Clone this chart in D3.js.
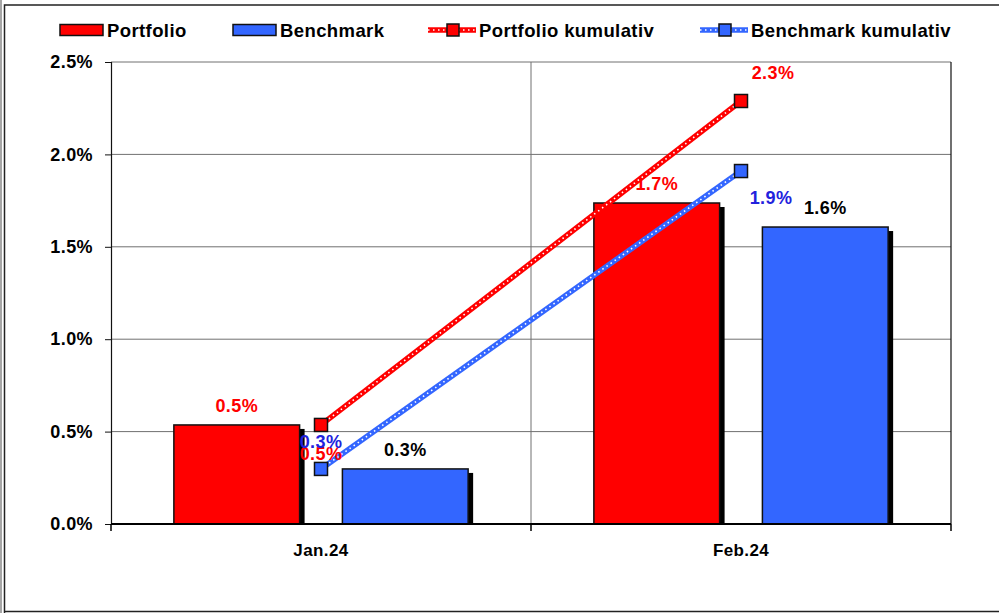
<!DOCTYPE html>
<html lang="en">

<head>
    <meta charset="UTF-8">
    <script src="https://d3js.org/d3.v7.min.js"></script>
    <title>Portfolio vs Benchmark</title>
    <style>
        body { margin: 0; background: #fff; }
        svg text { font-family: "Liberation Sans", Arial, sans-serif; font-weight: bold; letter-spacing: 0.4px; }
    </style>
</head>

<body>
    <div id="chart"></div>
    <script>
        // Data
        const months = ["Jan.24", "Feb.24"];
        const portfolio = [0.536, 1.737];
        const benchmark = [0.298, 1.607];
        const portfolioCum = [0.536, 2.289];
        const benchmarkCum = [0.298, 1.910];
        const yTicks = [0, 0.5, 1.0, 1.5, 2.0, 2.5];

        // Dimensions
        const width = 999;
        const height = 613;
        const margin = { top: 62, right: 48, bottom: 89, left: 111 };
        const innerWidth = width - margin.left - margin.right;
        const innerHeight = height - margin.top - margin.bottom;

        const svg = d3.select("#chart")
            .append("svg")
            .attr("width", width)
            .attr("height", height);

        // Outer frame
        svg.append("rect").attr("x", 0).attr("y", 0).attr("width", width).attr("height", height).attr("fill", "#fff");
        svg.append("line").attr("x1", 1).attr("x2", 1).attr("y1", 0).attr("y2", 613).attr("stroke", "#888").attr("stroke-width", 1.5);
        svg.append("path")
            .attr("d", "M4.5,613 V5 H999 M4.5,611.5 H999")
            .attr("fill", "none").attr("stroke", "#222").attr("stroke-width", 1.5);

        const g = svg.append("g")
            .attr("transform", `translate(${margin.left},${margin.top})`);

        // Scales
        const x = d3.scaleBand().domain(months).range([0, innerWidth]);
        const sub = d3.scaleBand().domain(["portfolio", "benchmark"])
            .range([0, x.bandwidth()]).paddingInner(0.254).paddingOuter(0.373);
        const y = d3.scaleLinear().domain([0, 2.5]).range([innerHeight, 0]);

        // Gridlines
        g.append("g")
            .selectAll("line")
            .data(yTicks.slice(1))
            .join("line")
            .attr("x1", 0).attr("x2", innerWidth)
            .attr("y1", d => y(d)).attr("y2", d => y(d))
            .attr("stroke", "#707070").attr("stroke-width", 1);

        // vertical category separator + right border
        g.append("line")
            .attr("x1", x(months[1])).attr("x2", x(months[1]))
            .attr("y1", 0).attr("y2", innerHeight)
            .attr("stroke", "#707070");
        g.append("line")
            .attr("x1", innerWidth).attr("x2", innerWidth)
            .attr("y1", 0).attr("y2", innerHeight)
            .attr("stroke", "#111").attr("stroke-width", 1.2);

        // Bars
        const barSeries = [
            { key: "portfolio", values: portfolio, color: "#ff0000", labelColor: "#ff0000" },
            { key: "benchmark", values: benchmark, color: "#3366ff", labelColor: "#000" }
        ];

        barSeries.forEach(s => {
            const bg = g.append("g");
            // shadow
            bg.selectAll(".shadow")
                .data(s.values)
                .join("rect")
                .attr("class", "shadow")
                .attr("x", (d, i) => x(months[i]) + sub(s.key) + 5)
                .attr("y", d => y(d) + 4)
                .attr("width", sub.bandwidth())
                .attr("height", d => innerHeight - y(d) - 3)
                .attr("fill", "#000");
            bg.selectAll(".bar")
                .data(s.values)
                .join("rect")
                .attr("class", "bar")
                .attr("x", (d, i) => x(months[i]) + sub(s.key))
                .attr("y", d => y(d))
                .attr("width", sub.bandwidth())
                .attr("height", d => innerHeight - y(d))
                .attr("fill", s.color)
                .attr("stroke", "#111")
                .attr("stroke-width", 1.5);
            bg.selectAll(".lbl")
                .data(s.values)
                .join("text")
                .attr("class", "lbl")
                .attr("x", (d, i) => x(months[i]) + sub(s.key) + sub.bandwidth() / 2)
                .attr("y", d => y(d) - 13)
                .attr("text-anchor", "middle")
                .attr("fill", s.labelColor)
                .style("font-size", "18px")
                .text(d => d3.format(".1f")(d) + "%");
        });

        // Axes
        g.append("g")
            .call(d3.axisLeft(y).tickValues(yTicks).tickSize(6).tickPadding(12)
                .tickFormat(d => d3.format(".1f")(d) + "%"))
            .call(a => a.select(".domain").attr("stroke", "#111").attr("stroke-width", 1.2))
            .call(a => a.selectAll(".tick line").attr("stroke", "#111"))
            .selectAll("text")
            .attr("fill", "#000")
            .style("font-size", "18px");

        g.append("g")
            .attr("transform", `translate(0,${innerHeight})`)
            .call(d3.axisBottom(x).tickSize(0).tickPadding(20))
            .call(a => a.select(".domain").remove())
            .selectAll("text")
            .attr("fill", "#000")
            .style("font-size", "17px");

        g.append("line")
            .attr("x1", 0).attr("x2", innerWidth)
            .attr("y1", innerHeight).attr("y2", innerHeight)
            .attr("stroke", "#000").attr("stroke-width", 2.2);
        g.append("g")
            .selectAll("line")
            .data([0, x(months[1]), innerWidth])
            .join("line")
            .attr("x1", d => d).attr("x2", d => d)
            .attr("y1", innerHeight).attr("y2", innerHeight + 7)
            .attr("stroke", "#000").attr("stroke-width", 1.5);

        // Cumulative lines
        const lineSeries = [
            { key: "pcum", values: portfolioCum, color: "#ff0000", labelColor: "#ff0000",
              offsets: [[0, 35], [32, -22]] },
            { key: "bcum", values: benchmarkCum, color: "#3366ff", labelColor: "#2222dd",
              offsets: [[0, -21], [30, 33]] }
        ];

        const line = d3.line()
            .x((d, i) => x(months[i]) + x.bandwidth() / 2)
            .y(d => y(d));

        lineSeries.forEach(s => {
            const lg = g.append("g");
            lg.append("path")
                .datum(s.values)
                .attr("d", line)
                .attr("fill", "none")
                .attr("stroke", s.color)
                .attr("stroke-width", 5.5);
            lg.append("path")
                .datum(s.values)
                .attr("d", line)
                .attr("fill", "none")
                .attr("stroke", "#fff")
                .attr("stroke-width", 1.6)
                .attr("stroke-dasharray", "1.5,3.5");
            lg.selectAll("rect")
                .data(s.values)
                .join("rect")
                .attr("x", (d, i) => x(months[i]) + x.bandwidth() / 2 - 6.5)
                .attr("y", d => y(d) - 6.5)
                .attr("width", 13)
                .attr("height", 13)
                .attr("fill", s.color)
                .attr("stroke", "#111")
                .attr("stroke-width", 1.5);
        });

        lineSeries.forEach(s => {
            g.append("g")
                .selectAll("text")
                .data(s.values)
                .join("text")
                .attr("x", (d, i) => x(months[i]) + x.bandwidth() / 2 + s.offsets[i][0])
                .attr("y", (d, i) => y(d) + s.offsets[i][1])
                .attr("text-anchor", "middle")
                .attr("fill", s.labelColor)
                .style("font-size", "18px")
                .text(d => d3.format(".1f")(d) + "%");
        });

        // Legend
        const legendData = [
            { label: "Portfolio", color: "#ff0000", type: "bar", x: 60 },
            { label: "Benchmark", color: "#3366ff", type: "bar", x: 233 },
            { label: "Portfolio kumulativ", color: "#ff0000", type: "line", x: 428 },
            { label: "Benchmark kumulativ", color: "#3366ff", type: "line", x: 700 }
        ];

        const legend = svg.append("g").attr("transform", "translate(0,30)");
        legendData.forEach(d => {
            const lg = legend.append("g").attr("transform", `translate(${d.x},0)`);
            if (d.type === "bar") {
                lg.append("rect").attr("x", 0).attr("y", -5.5).attr("width", 43).attr("height", 11)
                    .attr("fill", d.color).attr("stroke", "#111").attr("stroke-width", 1.5);
                lg.append("text").attr("x", 47).attr("y", 7).attr("fill", "#000")
                    .style("font-size", "18.5px").text(d.label);
            } else {
                lg.append("line").attr("x1", 0).attr("x2", 48).attr("y1", 0).attr("y2", 0)
                    .attr("stroke", d.color).attr("stroke-width", 5.5);
                lg.append("line").attr("x1", 0).attr("x2", 48).attr("y1", 0).attr("y2", 0)
                    .attr("stroke", "#fff").attr("stroke-width", 1.6).attr("stroke-dasharray", "1.5,3.5");
                lg.append("rect").attr("x", 19).attr("y", -6).attr("width", 12).attr("height", 12)
                    .attr("fill", d.color).attr("stroke", "#111").attr("stroke-width", 1.5);
                lg.append("text").attr("x", 51).attr("y", 7).attr("fill", "#000")
                    .style("font-size", "18.5px").text(d.label);
            }
        });
    </script>
</body>

</html>
